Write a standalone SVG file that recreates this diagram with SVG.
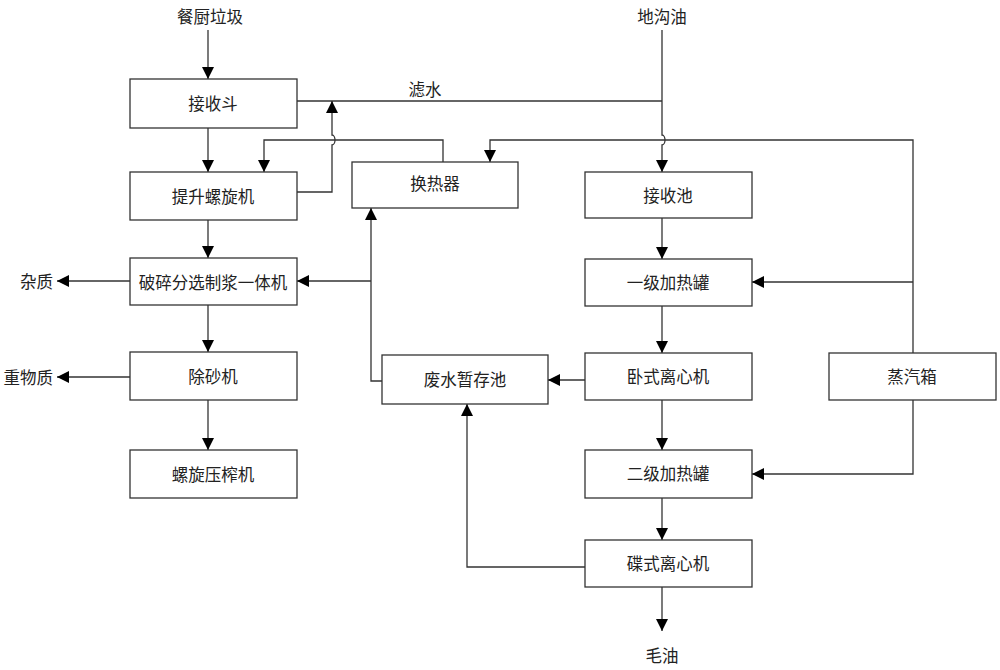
<svg xmlns="http://www.w3.org/2000/svg" width="1000" height="670" viewBox="0 0 1000 670">
<style>
.box{fill:#fff;stroke:#333;stroke-width:1.3}
.t{font-family:"Noto Sans CJK SC","Noto Sans",sans-serif;font-size:16.5px;fill:#222;text-anchor:middle;dominant-baseline:central}
.c{fill:none;stroke:#333;stroke-width:1.3}
.a{marker-end:url(#arr)}
</style>
<defs>
<marker id="arr" markerUnits="userSpaceOnUse" markerWidth="12" markerHeight="12" refX="12" refY="6" orient="auto">
<path d="M0,0 L12,6 L0,12 z" fill="#000"/>
</marker>
</defs>
<rect width="1000" height="670" fill="#fff"/>
<g id="labels">
<text class="t" x="210" y="16">餐厨垃圾</text>
<text class="t" x="662" y="16">地沟油</text>
<text class="t" x="425" y="89">滤水</text>
<text class="t" x="662" y="655">毛油</text>
<text class="t" x="53" y="281" style="text-anchor:end">杂质</text>
<text class="t" x="53" y="377" style="text-anchor:end">重物质</text>
</g>
<g id="connectors">
<path class="c a" d="M208,30 V79"/>
<path class="c a" d="M208,128 V172"/>
<path class="c a" d="M208,220 V258"/>
<path class="c a" d="M208,305 V352"/>
<path class="c a" d="M208,400 V450"/>
<path class="c a" d="M130,281 H57"/>
<path class="c a" d="M130,377 H57"/>
<path class="c" d="M297,101 H662"/>
<path class="c a" d="M662,30 V135 A3,5 0 0 1 662,145 V172"/>
<path class="c a" d="M297,192 H332 V145 A3,5 0 0 0 332,135 V101"/>
<path class="c a" d="M443,162 V140 H264 V172"/>
<path class="c a" d="M913,353 V140 H490 V162"/>
<path class="c a" d="M913,282 H752"/>
<path class="c a" d="M913,400 V474 H752"/>
<path class="c a" d="M662,218 V259"/>
<path class="c a" d="M662,306 V353"/>
<path class="c a" d="M662,400 V450"/>
<path class="c a" d="M662,497 V540"/>
<path class="c a" d="M662,587 V631"/>
<path class="c a" d="M585,380 H548"/>
<path class="c a" d="M585,567 H467 V404"/>
<path class="c a" d="M382,381 H371 V208"/>
<path class="c a" d="M371,281 H297"/>
</g>
<g id="n1"><rect class="box" x="130" y="79" width="167" height="49"/><text class="t" x="213" y="103">接收斗</text></g>
<g id="n2"><rect class="box" x="130" y="172" width="167" height="48"/><text class="t" x="213" y="196">提升螺旋机</text></g>
<g id="n3"><rect class="box" x="130" y="258" width="167" height="47"/><text class="t" x="213" y="282">破碎分选制浆一体机</text></g>
<g id="n4"><rect class="box" x="130" y="352" width="167" height="48"/><text class="t" x="213" y="376">除砂机</text></g>
<g id="n5"><rect class="box" x="130" y="450" width="167" height="48"/><text class="t" x="213" y="474">螺旋压榨机</text></g>
<g id="n6"><rect class="box" x="352" y="162" width="166" height="46"/><text class="t" x="435" y="183">换热器</text></g>
<g id="n7"><rect class="box" x="382" y="355" width="166" height="49"/><text class="t" x="465" y="379">废水暂存池</text></g>
<g id="n8"><rect class="box" x="585" y="172" width="167" height="46"/><text class="t" x="668" y="195">接收池</text></g>
<g id="n9"><rect class="box" x="585" y="259" width="167" height="47"/><text class="t" x="668" y="282">一级加热罐</text></g>
<g id="n10"><rect class="box" x="585" y="353" width="167" height="47"/><text class="t" x="668" y="376">卧式离心机</text></g>
<g id="n11"><rect class="box" x="585" y="450" width="167" height="48"/><text class="t" x="668" y="473">二级加热罐</text></g>
<g id="n12"><rect class="box" x="585" y="540" width="167" height="47"/><text class="t" x="668" y="563">碟式离心机</text></g>
<g id="n13"><rect class="box" x="829" y="353" width="167" height="47"/><text class="t" x="912" y="376">蒸汽箱</text></g>
</svg>
